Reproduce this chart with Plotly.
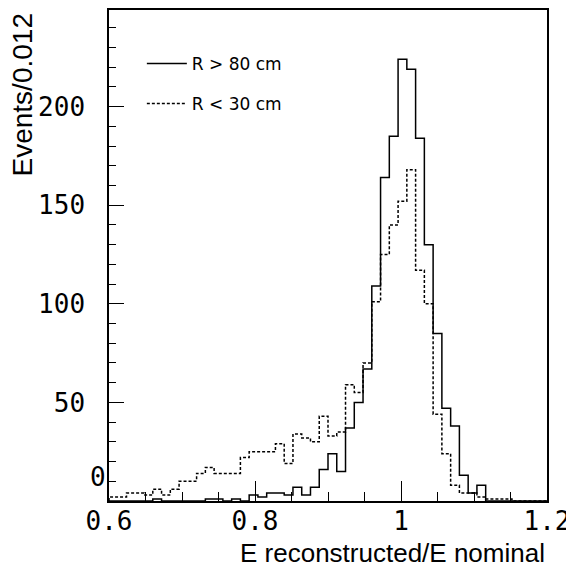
import plotly.graph_objects as go

# Histogram binning
x_lo = 0.6
bin_width = 0.012
n_bins = 50

# Events per bin, R > 80 cm (solid)
r_gt_80 = [0, 0, 0, 0, 0, 1, 0, 0, 0, 0,
           0, 1, 1, 0, 1, 0, 3, 2, 4, 4,
           3, 7, 3, 7, 16, 24, 15, 37, 50, 67,
           109, 164, 185, 224, 219, 184, 130, 85, 47, 38,
           13, 4, 8, 0, 0, 0, 0, 0, 0, 0]

# Events per bin, R < 30 cm (dashed)
r_lt_30 = [2, 2, 4, 4, 3, 6, 3, 6, 10, 10,
           14, 17, 14, 14, 14, 22, 25, 25, 25, 29,
           19, 34, 32, 30, 43, 33, 35, 59, 55, 70,
           101, 125, 140, 152, 168, 117, 100, 44, 24, 8,
           4, 4, 2, 1, 1, 1, 0, 0, 0, 0]

series_names = ["R > 80 cm", "R < 30 cm"]
x_tick_vals = [0.6, 0.8, 1.0, 1.2]
x_tick_text = ["0.6", "0.8", "1", "1.2"]
y_tick_vals = [50, 100, 150, 200]
y_tick_text = ["50", "100", "150", "200"]

edges = [x_lo + i * bin_width for i in range(n_bins + 1)]


def step_xy(vals):
    xs = [edges[0]] + edges[:-1] + [edges[-1], edges[-1]]
    ys = [0] + list(vals) + [vals[-1], 0]
    return xs, ys


fig = go.Figure()
for vals, name, dash, lg in [(r_gt_80, series_names[0], "solid", "a"),
                             (r_lt_30, series_names[1], "3px,2px", "b")]:
    xs, ys = step_xy(vals)
    fig.add_trace(go.Scatter(x=xs, y=ys, mode="lines", line_shape="hv",
                             line=dict(color="black", width=1.5, dash=dash),
                             name=name, legendgroup=lg, hoverinfo="skip"))

mono = "DejaVu Sans Mono"
sans = "Liberation Sans"

fig.update_layout(
    width=574, height=569,
    margin=dict(l=101, r=35, t=0, b=76),
    paper_bgcolor="white", plot_bgcolor="white",
    showlegend=True,
    legend=dict(x=0.075, y=0.927, xanchor="left", yanchor="top",
                font=dict(family="DejaVu Sans", size=17, color="black"),
                bgcolor="rgba(0,0,0,0)", itemwidth=40, tracegroupgap=15),
    xaxis=dict(range=[0.6, 1.2], showgrid=False, zeroline=False,
               showline=True, linecolor="black", linewidth=1.5, mirror=True,
               ticks="inside", ticklen=20, tickcolor="black", tickwidth=1,
               tickvals=x_tick_vals, ticktext=x_tick_text,
               ticklabelstandoff=-4,
               tickfont=dict(family=mono, size=26, color="black"),
               minor=dict(ticks="inside", ticklen=9, dtick=0.05,
                          tickcolor="black", tickwidth=1, showgrid=False)),
    yaxis=dict(range=[0, 249], showgrid=False, zeroline=False,
               showline=True, linecolor="black", linewidth=1.5, mirror=True,
               ticks="inside", ticklen=15, tickcolor="black", tickwidth=1,
               tickvals=y_tick_vals, ticktext=y_tick_text,
               ticklabelstandoff=17,
               tickfont=dict(family=mono, size=26, color="black"),
               minor=dict(ticks="inside", ticklen=7, dtick=10,
                          tickcolor="black", tickwidth=1, showgrid=False)),
    annotations=[
        dict(text="E reconstructed/E nominal", xref="paper", yref="paper",
             x=1.0, y=-0.1055, xanchor="right", yanchor="middle", showarrow=False,
             font=dict(family=sans, size=26, color="black")),
        dict(text="Events/0.012", xref="paper", yref="paper",
             x=-0.1986, y=0.996, xanchor="center", yanchor="top", textangle=-90,
             showarrow=False, font=dict(family=sans, size=28, color="black")),
        dict(text="0", xref="paper", yref="y", x=-0.002, y=12,
             xanchor="right", yanchor="middle", showarrow=False,
             font=dict(family=mono, size=26, color="black")),
    ],
)

fig.write_html("out.html")
